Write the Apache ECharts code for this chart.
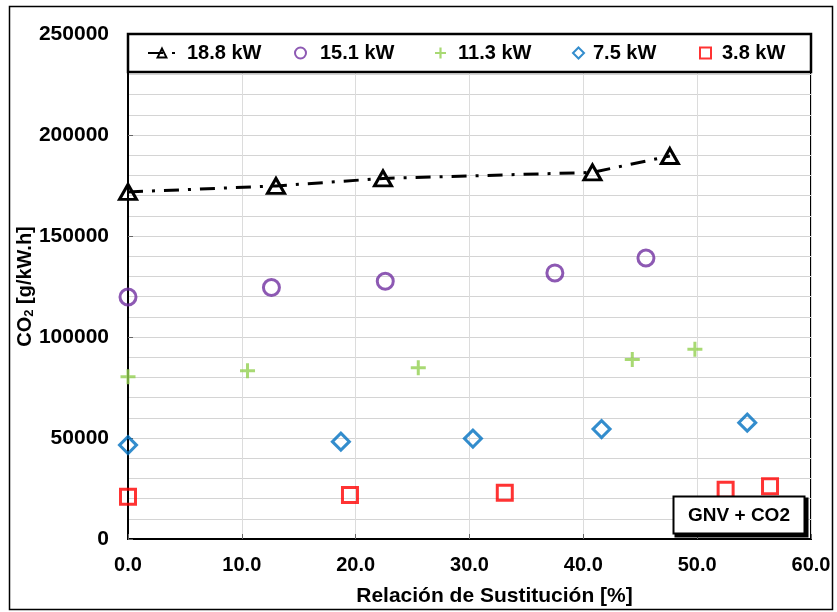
<!DOCTYPE html>
<html>
<head>
<meta charset="utf-8">
<script src="https://cdn.jsdelivr.net/npm/echarts@6/dist/echarts.min.js"></script>
<style>
  html, body { margin: 0; padding: 0; background: #fff; }
  #chart { width: 837px; height: 612px; }
</style>
</head>
<body>
<div id="chart"></div>
<script>
// Substitution ratio [%] and CO2 emissions [g/kW.h] per engine load
const seriesNames = ['18.8 kW', '15.1 kW', '11.3 kW', '7.5 kW', '3.8 kW'];

const x188 = [0, 13.0, 22.4, 40.8, 47.6];
const y188 = [171800, 174800, 178500, 181500, 189600];

const x151 = [0, 12.6, 22.6, 37.5, 45.5];
const y151 = [119800, 124500, 127600, 131700, 139100];

const x113 = [0, 10.5, 25.5, 44.3, 49.8];
const y113 = [80300, 83300, 84800, 88900, 93900];

const x75 = [0, 18.7, 30.3, 41.6, 54.4];
const y75 = [46500, 48200, 49700, 54400, 57600];

const x38 = [0, 19.5, 33.1, 52.5, 56.4];
const y38 = [20900, 21800, 22900, 24400, 26100];

const xTicks = [0, 10, 20, 30, 40, 50, 60];
const yTicks = [0, 50000, 100000, 150000, 200000, 250000];

const fontFamily = 'Arial, "Liberation Sans", sans-serif';

function pairs(xs, ys) {
  return xs.map((x, i) => [x, ys[i]]);
}

const plusPath = 'path://M4,0H6V4H10V6H6V10H4V6H0V4H4Z';

const chart = echarts.init(document.getElementById('chart'), null, { renderer: 'canvas' });

// One legend per entry so each sits at its own spot in the header box
function legendAt(name, left, itemWidth, textPad) {
  return {
    data: [name],
    left: left,
    top: 43,
    padding: 0,
    itemWidth: itemWidth,
    itemHeight: 11,
    selectedMode: false,
    z: 6,
    textStyle: {
      fontFamily: fontFamily,
      fontSize: 20,
      fontWeight: 'bold',
      color: '#000',
      padding: [0, 0, 0, textPad]
    }
  };
}

const option = {
  animation: false,
  backgroundColor: '#fff',
  grid: {
    left: 128,
    right: 26,
    top: 34,
    bottom: 73,
    containLabel: false,
    outerBoundsMode: 'none',
    show: true,
    borderColor: '#000',
    borderWidth: 2,
    backgroundColor: 'transparent'
  },
  legend: [
    legendAt(seriesNames[0], 147, 28, 6),
    legendAt(seriesNames[1], 294, 11, 9),
    legendAt(seriesNames[2], 435, 11, 7),
    legendAt(seriesNames[3], 572, 11, 4),
    legendAt(seriesNames[4], 699, 11, 6)
  ],
  xAxis: {
    type: 'value',
    min: xTicks[0],
    max: xTicks[xTicks.length - 1],
    interval: 10,
    name: 'Relación de Sustitución [%]',
    nameLocation: 'middle',
    nameGap: 47,
    nameMoveOverlap: false,
    nameTextStyle: {
      fontFamily: fontFamily,
      fontSize: 21,
      fontWeight: 'bold',
      color: '#000',
      padding: [0, 0, 0, 50]
    },
    axisLine: { show: true, onZero: false, lineStyle: { color: '#000', width: 2 } },
    axisTick: { show: true, inside: true, length: 5, lineStyle: { color: '#666' } },
    axisLabel: {
      margin: 16,
      fontFamily: fontFamily,
      fontSize: 20,
      fontWeight: 'bold',
      color: '#000',
      formatter: v => v.toFixed(1)
    },
    splitLine: { show: true, lineStyle: { color: '#dcdcdc', width: 1 } }
  },
  yAxis: {
    type: 'value',
    min: yTicks[0],
    max: yTicks[yTicks.length - 1],
    interval: 50000,
    name: 'CO{sub|2} [g/kW.h]',
    nameLocation: 'middle',
    nameGap: 92,
    nameMoveOverlap: false,
    nameTextStyle: {
      fontFamily: fontFamily,
      fontSize: 20,
      fontWeight: 'bold',
      color: '#000',
      rich: {
        sub: {
          fontFamily: fontFamily,
          fontSize: 13,
          fontWeight: 'bold',
          color: '#000',
          verticalAlign: 'bottom',
          padding: [8, 0, 0, 0]
        }
      }
    },
    axisLine: { show: true, lineStyle: { color: '#000', width: 2 } },
    axisTick: { show: true, inside: true, length: 5, lineStyle: { color: '#666' } },
    axisLabel: {
      margin: 19,
      fontFamily: fontFamily,
      fontSize: 21,
      fontWeight: 'bold',
      color: '#000',
      formatter: v => String(v)
    },
    splitLine: { show: true, lineStyle: { color: '#d4d4d4', width: 1.2 } },
    minorTick: { show: false, splitNumber: 5 },
    minorSplitLine: { show: true, lineStyle: { color: '#d4d4d4', width: 1.2 } }
  },
  graphic: [
    // outer frame
    {
      type: 'rect',
      shape: { x: 9.5, y: 6.5, width: 823, height: 603 },
      style: { fill: 'none', stroke: '#000', lineWidth: 1.5 },
      z: 1,
      silent: true
    },
    // legend header box
    {
      type: 'rect',
      shape: { x: 128, y: 34, width: 683, height: 38 },
      style: { fill: '#fff', stroke: '#000', lineWidth: 2.5 },
      z: 5,
      silent: true
    },
    // annotation box shadow
    {
      type: 'rect',
      shape: { x: 675.5, y: 498.5, width: 132, height: 38 },
      style: { fill: '#000', stroke: '#000', lineWidth: 2 },
      z: 5,
      silent: true
    },
    // annotation box
    {
      type: 'rect',
      shape: { x: 673.5, y: 496.5, width: 131, height: 37 },
      style: { fill: '#fff', stroke: '#000', lineWidth: 2 },
      z: 5,
      silent: true
    },
    {
      type: 'text',
      x: 739,
      y: 516,
      z: 6,
      silent: true,
      style: {
        text: 'GNV + CO2',
        fill: '#000',
        font: 'bold 19px Arial, "Liberation Sans", sans-serif',
        align: 'center',
        verticalAlign: 'middle'
      }
    }
  ],
  series: [
    {
      name: seriesNames[0],
      type: 'line',
      data: pairs(x188, y188),
      symbol: 'triangle',
      symbolSize: [17, 15],
      showSymbol: true,
      z: 3,
      lineStyle: { color: '#000', width: 3, type: [15, 9, 3, 9] },
      itemStyle: { color: 'rgba(255,255,255,0)', borderColor: '#000', borderWidth: 3 }
    },
    {
      name: seriesNames[1],
      type: 'scatter',
      data: pairs(x151, y151),
      symbol: 'circle',
      symbolSize: 16,
      z: 3,
      itemStyle: { color: 'rgba(255,255,255,0)', borderColor: '#7030A0', borderWidth: 3 }
    },
    {
      name: seriesNames[2],
      type: 'scatter',
      data: pairs(x113, y113),
      symbol: plusPath,
      symbolSize: 15,
      z: 3,
      itemStyle: { color: '#92D050' }
    },
    {
      name: seriesNames[3],
      type: 'scatter',
      data: pairs(x75, y75),
      symbol: 'diamond',
      symbolSize: [17, 17],
      z: 3,
      itemStyle: { color: 'rgba(255,255,255,0)', borderColor: '#0070C0', borderWidth: 3 }
    },
    {
      name: seriesNames[4],
      type: 'scatter',
      data: pairs(x38, y38),
      symbol: 'rect',
      symbolSize: 15,
      z: 3,
      itemStyle: { color: 'rgba(255,255,255,0)', borderColor: '#FF0000', borderWidth: 3 }
    }
  ]
};

chart.setOption(option);
</script>
</body>
</html>
